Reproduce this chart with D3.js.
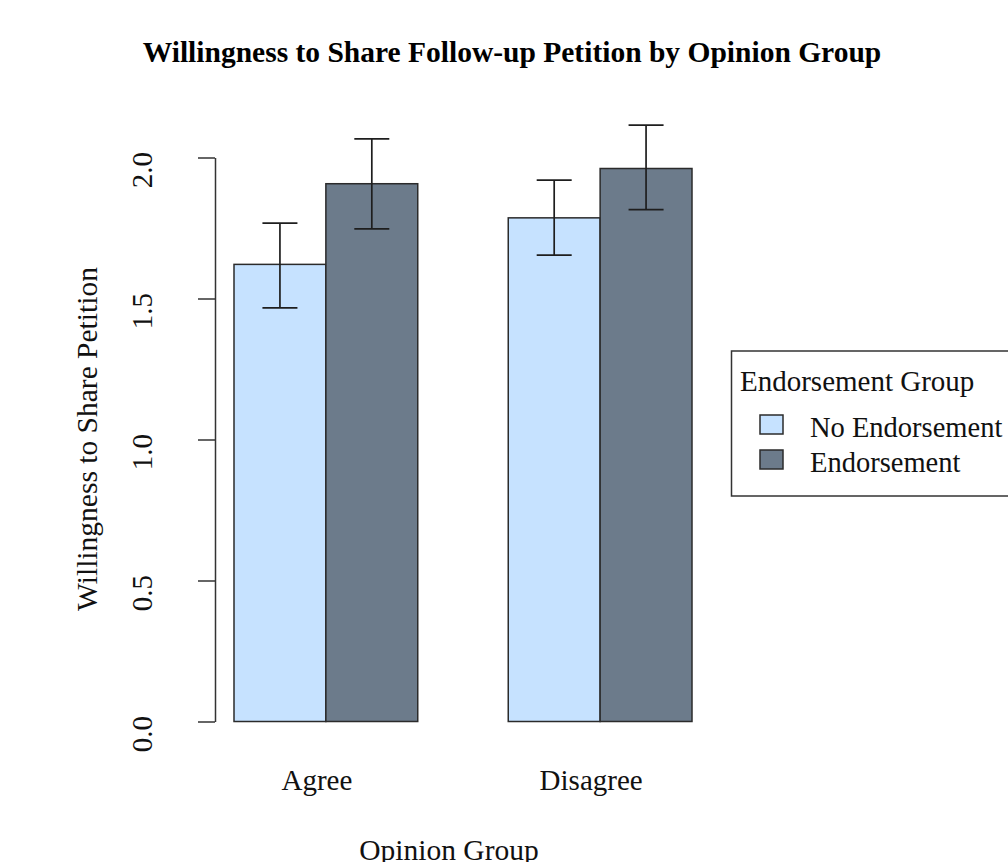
<!DOCTYPE html>
<html><head><meta charset="utf-8">
<script src="https://cdn.jsdelivr.net/npm/d3@7"></script>
<style>html,body{margin:0;padding:0;background:#fff;overflow:hidden}svg{display:block}</style>
</head><body>
<script>
const groups = ["Agree", "Disagree"];
const seriesNames = ["No Endorsement", "Endorsement"];
const meanNoEndorsement = [1.621, 1.786];
const meanEndorsement = [1.907, 1.961];
const lowerNoEndorsement = [1.467, 1.654];
const lowerEndorsement = [1.747, 1.815];
const upperNoEndorsement = [1.767, 1.920];
const upperEndorsement = [2.066, 2.115];
const yTicks = [0, 0.5, 1.0, 1.5, 2.0];
const colors = ["#C6E2FF", "#6C7B8B"];

const W = 1008, H = 862;
const font = "'Liberation Serif', 'Times New Roman', serif";
const svg = d3.select("body").append("svg").attr("width", W).attr("height", H)
  .style("font-family", font);

const data = groups.map((g, i) => ({
  group: g,
  values: [
    {s: seriesNames[0], v: meanNoEndorsement[i], lo: lowerNoEndorsement[i], hi: upperNoEndorsement[i]},
    {s: seriesNames[1], v: meanEndorsement[i], lo: lowerEndorsement[i], hi: upperEndorsement[i]}
  ]
}));

const x0 = d3.scaleBand().domain(groups).range([234, 692]).paddingInner(0.33).paddingOuter(0);
const x1 = d3.scaleBand().domain(seriesNames).range([0, x0.bandwidth()]).padding(0);
const y = d3.scaleLinear().domain([0, 2]).range([721.5, 157.5]);
const color = d3.scaleOrdinal().domain(seriesNames).range(colors);

// title
svg.append("text").attr("x", 512).attr("y", 62).attr("text-anchor", "middle")
  .attr("font-weight", "bold").attr("font-size", 29.5).attr("fill", "#000")
  .text("Willingness to Share Follow-up Petition by Opinion Group");

// bars
const gG = svg.selectAll("g.grp").data(data).join("g").attr("class", "grp")
  .attr("transform", d => `translate(${x0(d.group)},0)`);
gG.selectAll("rect").data(d => d.values).join("rect")
  .attr("x", d => x1(d.s)).attr("width", x1.bandwidth())
  .attr("y", d => y(d.v)).attr("height", d => y(0) - y(d.v))
  .attr("fill", d => color(d.s)).attr("stroke", "#2b2b2b").attr("stroke-width", 1.5);

// error bars
const capHalf = 17.5;
const eb = gG.selectAll("g.eb").data(d => d.values).join("g").attr("class", "eb")
  .attr("stroke", "#1e1e1e").attr("stroke-width", 1.7);
eb.append("line").attr("x1", d => x1(d.s) + x1.bandwidth() / 2).attr("x2", d => x1(d.s) + x1.bandwidth() / 2)
  .attr("y1", d => y(d.lo)).attr("y2", d => y(d.hi));
eb.append("line").attr("x1", d => x1(d.s) + x1.bandwidth() / 2 - capHalf).attr("x2", d => x1(d.s) + x1.bandwidth() / 2 + capHalf)
  .attr("y1", d => y(d.hi)).attr("y2", d => y(d.hi));
eb.append("line").attr("x1", d => x1(d.s) + x1.bandwidth() / 2 - capHalf).attr("x2", d => x1(d.s) + x1.bandwidth() / 2 + capHalf)
  .attr("y1", d => y(d.lo)).attr("y2", d => y(d.lo));

// y axis
const yAxis = svg.append("g").attr("transform", "translate(215,0)")
  .call(d3.axisLeft(y).tickValues(yTicks).tickFormat(d3.format(".1f")).tickSize(17).tickSizeOuter(0));
yAxis.select(".domain").attr("stroke", "#333").attr("stroke-width", 1.5);
yAxis.selectAll(".tick line").attr("stroke", "#333").attr("stroke-width", 1.5);
yAxis.selectAll(".tick text").attr("x", null).attr("dy", null)
  .attr("transform", "translate(-63,12) rotate(-90)")
  .attr("text-anchor", "middle").attr("font-size", 29).attr("font-family", font).attr("fill", "#111");

// y label
svg.append("text").attr("transform", "translate(97,439) rotate(-90)").attr("text-anchor", "middle")
  .attr("font-size", 29.5).attr("fill", "#111").text("Willingness to Share Petition");

// category labels
svg.selectAll("text.cat").data(groups).join("text").attr("class", "cat")
  .attr("x", d => x0(d) + x0.bandwidth() / 2 - 9).attr("y", 790).attr("text-anchor", "middle")
  .attr("font-size", 29).attr("fill", "#111").text(d => d);

// x label
svg.append("text").attr("x", 449).attr("y", 860).attr("text-anchor", "middle")
  .attr("font-size", 29.5).attr("fill", "#111").text("Opinion Group");

// legend
const lg = svg.append("g");
lg.append("rect").attr("x", 731.5).attr("y", 351).attr("width", 300).attr("height", 145)
  .attr("fill", "#fff").attr("stroke", "#333").attr("stroke-width", 1.5);
lg.append("text").attr("x", 740).attr("y", 391).attr("font-size", 29).attr("fill", "#111").text("Endorsement Group");
const li = lg.selectAll("g.li").data(seriesNames).join("g").attr("class", "li")
  .attr("transform", (d, i) => `translate(0,${i * 35})`);
li.append("rect").attr("x", 760).attr("y", 415).attr("width", 23).attr("height", 19)
  .attr("fill", d => color(d)).attr("stroke", "#2b2b2b").attr("stroke-width", 1.5);
li.append("text").attr("x", 810).attr("y", 437).attr("font-size", 28.5).attr("fill", "#111").text(d => d);
</script>
</body></html>
